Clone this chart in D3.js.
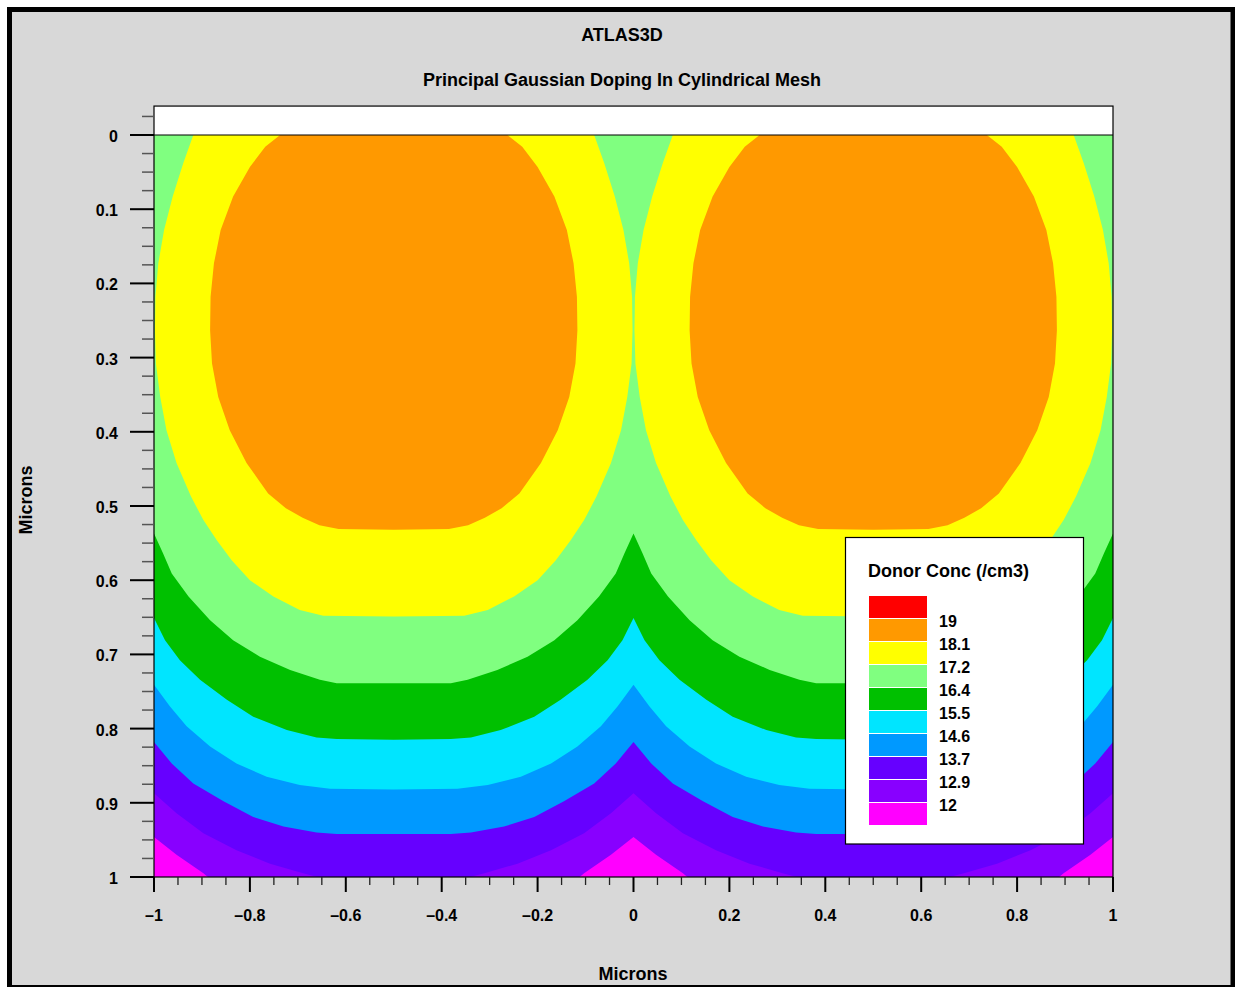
<!DOCTYPE html>
<html>
<head>
<meta charset="utf-8">
<script src="https://cdn.jsdelivr.net/npm/d3@7"></script>
<style>
  html, body { margin: 0; padding: 0; background: #ffffff; }
  svg { display: block; }
  text { font-family: "Liberation Sans", Arial, Helvetica, sans-serif; font-weight: bold; fill: #000; }
</style>
</head>
<body>
<svg id="chart" width="1235" height="987"></svg>
<script>
// Contour levels (log10 of donor concentration, /cm3), lowest first
const levels = [12, 12.9, 13.7, 14.6, 15.5, 16.4, 17.2, 18.1, 19];
// Band fill colours, lowest band (below 12) first, highest (above 19) last
const bandColors = ["#ff00ff", "#8800ff", "#6600ff", "#0099ff", "#00e5ff",
                    "#00c000", "#80ff80", "#ffff00", "#ff9900", "#ff0000"];

// Iso-concentration boundaries of one implant, outer quarter of the lobe:
// [x (microns), depth (microns)], from the surface / left edge down to the lobe axis (x = -0.5)
const contour12 = [[-1, 0.946], [-0.953, 0.970], [-0.897, 0.995], [-0.85, 1.02], [-0.7, 1.05], [-0.5, 1.06]];
const contour12_9 = [[-1, 0.887], [-0.953, 0.914], [-0.897, 0.941], [-0.828, 0.964], [-0.758, 0.982],
                     [-0.689, 0.995], [-0.6, 1.01], [-0.5, 1.015]];
const contour13_7 = [[-1, 0.818], [-0.963, 0.847], [-0.918, 0.874], [-0.855, 0.898], [-0.793, 0.919],
                     [-0.730, 0.932], [-0.661, 0.940], [-0.619, 0.942], [-0.5, 0.942]];
const contour14_6 = [[-1, 0.741], [-0.967, 0.770], [-0.932, 0.797], [-0.883, 0.824], [-0.828, 0.847],
                     [-0.765, 0.865], [-0.696, 0.876], [-0.633, 0.881], [-0.5, 0.882]];
const contour15_5 = [[-1, 0.651], [-0.977, 0.681], [-0.946, 0.708], [-0.904, 0.734], [-0.848, 0.761],
                     [-0.793, 0.784], [-0.723, 0.802], [-0.661, 0.812], [-0.619, 0.814], [-0.5, 0.815]];
const contour16_4 = [[-1, 0.537], [-0.981, 0.564], [-0.963, 0.591], [-0.928, 0.622], [-0.883, 0.654],
                     [-0.835, 0.681], [-0.779, 0.703], [-0.716, 0.721], [-0.654, 0.734], [-0.619, 0.739],
                     [-0.5, 0.739]];
const contour17_2 = [[-0.918, 0], [-0.939, 0.038], [-0.961, 0.083], [-0.979, 0.128], [-0.991, 0.173],
                     [-0.997, 0.218], [-0.998, 0.263], [-0.996, 0.308], [-0.987, 0.353], [-0.974, 0.398],
                     [-0.953, 0.442], [-0.923, 0.487], [-0.897, 0.519], [-0.869, 0.546], [-0.838, 0.573],
                     [-0.800, 0.600], [-0.751, 0.622], [-0.696, 0.640], [-0.647, 0.648], [-0.5, 0.649]];
const contour18_1 = [[-0.737, 0], [-0.768, 0.016], [-0.800, 0.043], [-0.835, 0.083], [-0.861, 0.128],
                     [-0.875, 0.173], [-0.882, 0.218], [-0.883, 0.263], [-0.879, 0.308], [-0.866, 0.353],
                     [-0.842, 0.398], [-0.807, 0.442], [-0.762, 0.483], [-0.725, 0.503], [-0.690, 0.516],
                     [-0.655, 0.526], [-0.615, 0.531], [-0.5, 0.532]];
const contours = [contour12, contour12_9, contour13_7, contour14_6, contour15_5,
                  contour16_4, contour17_2, contour18_1];

// Axis ticks and labels
const xTicks = [-1, -0.8, -0.6, -0.4, -0.2, 0, 0.2, 0.4, 0.6, 0.8, 1];
const xTickLabels = ["\u20131", "\u20130.8", "\u20130.6", "\u20130.4", "\u20130.2", "0", "0.2", "0.4", "0.6", "0.8", "1"];
const yTicks = [0, 0.1, 0.2, 0.3, 0.4, 0.5, 0.6, 0.7, 0.8, 0.9, 1];
const yTickLabels = ["0", "0.1", "0.2", "0.3", "0.4", "0.5", "0.6", "0.7", "0.8", "0.9", "1"];
const legendLabels = ["19", "18.1", "17.2", "16.4", "15.5", "14.6", "13.7", "12.9", "12"];

const svg = d3.select("#chart");

// Outer frame
svg.append("rect").attr("x", 9.5).attr("y", 9.5).attr("width", 1223.5).attr("height", 978)
  .attr("fill", "#d8d8d8").attr("stroke", "#000").attr("stroke-width", 5);

// Titles
svg.append("text").attr("x", 622).attr("y", 41).attr("text-anchor", "middle")
  .attr("font-size", 18).text("ATLAS3D");
svg.append("text").attr("x", 622).attr("y", 86).attr("text-anchor", "middle")
  .attr("font-size", 18).text("Principal Gaussian Doping In Cylindrical Mesh");

// Scales
const x = d3.scaleLinear().domain([-1, 1]).range([154, 1113]);
const y = d3.scaleLinear().domain([0, 1]).range([135, 877]);
const yTop = -0.039;

// Plot area background (white band above the surface)
svg.append("rect").attr("x", x(-1)).attr("y", y(yTop)).attr("width", x(1) - x(-1))
  .attr("height", y(1) - y(yTop)).attr("fill", "#fff");

// Clip to the silicon region
svg.append("clipPath").attr("id", "dataClip").append("rect")
  .attr("x", x(-1)).attr("y", y(0)).attr("width", x(1) - x(-1)).attr("height", y(1) - y(0));

const bands = svg.append("g").attr("clip-path", "url(#dataClip)");

// Lowest band fills the whole region
bands.append("rect").attr("x", x(-1)).attr("y", y(0)).attr("width", x(1) - x(-1))
  .attr("height", y(1) - y(0)).attr("fill", bandColors[0]);

const line = d3.line().x(d => x(d[0])).y(d => y(d[1]));

// Region above a level for the left implant (lobe symmetric about x = -0.5)
function lobePolygon(q) {
  const mirrored = q.slice().reverse().map(d => [-1 - d[0], d[1]]);
  return [[q[0][0], 0]].concat(q, mirrored, [[-1 - q[0][0], 0]]);
}

// Both implants in one path, same winding, so the shared edge at x = 0 leaves no seam
contours.forEach((q, i) => {
  const left = lobePolygon(q);
  const right = left.map(d => [-d[0], d[1]]).reverse();
  bands.append("path").attr("d", line(left) + "Z" + line(right) + "Z")
    .attr("fill", bandColors[i + 1]);
});

// Surface line and plot frame
svg.append("line").attr("x1", x(-1)).attr("x2", x(1)).attr("y1", y(0)).attr("y2", y(0))
  .attr("stroke", "#000").attr("stroke-width", 1.2);
svg.append("rect").attr("x", x(-1)).attr("y", y(yTop)).attr("width", x(1) - x(-1))
  .attr("height", y(1) - y(yTop)).attr("fill", "none").attr("stroke", "#000").attr("stroke-width", 1.2);

// Y axis ticks
const yMinor = d3.range(-0.025, 1.0001, 0.025).filter(v => Math.abs(Math.round(v * 10) - v * 10) > 1e-6);
svg.append("g").selectAll("line").data(yMinor).join("line")
  .attr("x1", x(-1) - 12).attr("x2", x(-1)).attr("y1", d => y(d)).attr("y2", d => y(d))
  .attr("stroke", "#555").attr("stroke-width", 1.5);
svg.append("g").selectAll("line").data(yTicks).join("line")
  .attr("x1", x(-1) - 24).attr("x2", x(-1)).attr("y1", d => y(d)).attr("y2", d => y(d))
  .attr("stroke", "#000").attr("stroke-width", 2);
svg.append("g").selectAll("text").data(yTicks).join("text")
  .attr("x", 118).attr("y", d => y(d) + 7).attr("text-anchor", "end").attr("font-size", 16)
  .text((d, i) => yTickLabels[i]);

// X axis ticks
const xMinor = d3.range(-1, 1.0001, 0.05).filter(v => Math.abs(Math.round(v * 5) - v * 5) > 1e-6);
svg.append("g").selectAll("line").data(xMinor).join("line")
  .attr("x1", d => x(d)).attr("x2", d => x(d)).attr("y1", y(1)).attr("y2", y(1) + 8)
  .attr("stroke", "#222").attr("stroke-width", 1.3);
svg.append("g").selectAll("line").data(xTicks).join("line")
  .attr("x1", d => x(d)).attr("x2", d => x(d)).attr("y1", y(1)).attr("y2", y(1) + 15)
  .attr("stroke", "#000").attr("stroke-width", 2);
svg.append("g").selectAll("text").data(xTicks).join("text")
  .attr("x", d => x(d)).attr("y", 921).attr("text-anchor", "middle").attr("font-size", 16)
  .text((d, i) => xTickLabels[i]);

// Axis titles
svg.append("text").attr("x", 633).attr("y", 980).attr("text-anchor", "middle")
  .attr("font-size", 18).text("Microns");
svg.append("text").attr("transform", "translate(32,500) rotate(-90)").attr("text-anchor", "middle")
  .attr("font-size", 18).text("Microns");

// Legend
const lg = svg.append("g");
lg.append("rect").attr("x", 845.5).attr("y", 537.5).attr("width", 238).attr("height", 306.5)
  .attr("fill", "#fff").attr("stroke", "#000").attr("stroke-width", 1.2);
lg.append("text").attr("x", 868).attr("y", 577).attr("font-size", 18).text("Donor Conc (/cm3)");
const swatchColors = bandColors.slice().reverse();
lg.selectAll("rect.sw").data(swatchColors).join("rect").attr("class", "sw")
  .attr("x", 869).attr("y", (d, i) => 596 + i * 23).attr("width", 58).attr("height", 22)
  .attr("fill", d => d);
lg.selectAll("text.lab").data(legendLabels).join("text").attr("class", "lab")
  .attr("x", 939).attr("y", (d, i) => 596 + (i + 1) * 23 + 8).attr("font-size", 16)
  .text(d => d);
</script>
</body>
</html>
